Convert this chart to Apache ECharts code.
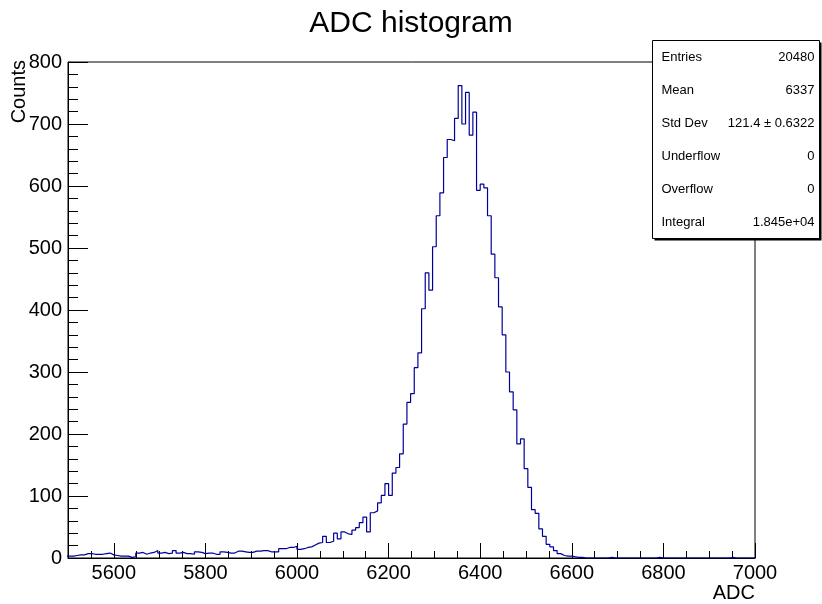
<!DOCTYPE html>
<html>
<head>
<meta charset="utf-8">
<title>ADC histogram</title>
<script src="https://cdn.jsdelivr.net/npm/echarts@6/dist/echarts.min.js"></script>
<style>
  html, body { margin: 0; padding: 0; background: #fff; }
  #chart { width: 822px; height: 604px; }
</style>
</head>
<body>
<div id="chart"></div>
<script>
// histogram binning: bins of width 8 starting at 5496 (first one is cut by the axis at 5500)
const binStart = 5496
const binWidth = 8

// counts per bin (5496 .. 6992)
const binCounts = [
  3,
  3, 4, 5, 5, 7, 7, 6, 6, 6, 7, 8, 5, 4, 3, 3, 3, 1, 2, 8, 9,
  6, 8, 9, 12, 8, 9, 7, 8, 12, 8, 9, 7, 7, 6, 10, 9, 7, 8, 8, 6,
  6, 10, 9, 8, 8, 11, 11, 10, 9, 9, 11, 11, 12, 12, 10, 10, 10, 15, 15, 17,
  17, 19, 14, 15, 17, 18, 21, 24, 25, 35, 25, 27, 40, 31, 42, 39, 38, 45, 49, 57,
  66, 42, 73, 76, 89, 101, 120, 101, 137, 146, 168, 216, 251, 265, 307, 331, 402, 460, 432, 502,
  552, 589, 646, 675, 673, 709, 762, 700, 751, 682, 719, 593, 603, 597, 552, 490, 452, 405, 360, 300,
  268, 239, 184, 192, 144, 114, 78, 72, 47, 35, 22, 18, 12, 7, 4, 3, 3, 2, 1, 1,
  0, 0, 0, 0, 0, 0, 0, 1, 0, 0, 0, 0, 0, 0, 0, 0, 0, 0, 0, 0,
  1, 0, 0, 0, 0, 0, 0, 0, 0, 0, 0, 0, 0, 0, 0, 0, 0, 0, 0, 0,
  1, 0, 0, 0, 0, 0, 0
]

// axis ticks
const xMajorTicks = [5600, 5800, 6000, 6200, 6400, 6600, 6800, 7000]

// stats box
const statLabels = ['Entries', 'Mean', 'Std Dev', 'Underflow', 'Overflow', 'Integral']
const statValues = ['20480', '6337', '121.4 \u00b1 0.6322', '0', '0', '1.845e+04']

const FONT = 'Liberation Sans, Arial, Helvetica, sans-serif'

function buildSteps() {
  const pts = []
  for (let i = 0; i < binCounts.length; i += 1) {
    pts.push([binStart + i * binWidth, binCounts[i]])
  }
  // close the last bin on its upper edge
  pts.push([binStart + binCounts.length * binWidth, binCounts[binCounts.length - 1]])
  return pts
}

function buildStatsBox() {
  const boxX = 652.5
  const boxY = 40.5
  const boxW = 167
  const boxH = 198
  const rowH = boxH / statLabels.length
  const els = [
    {
      type: 'rect',
      shape: { x: boxX + 2, y: boxY + 2, width: boxW, height: boxH },
      style: { fill: '#000' },
      z: 10,
    },
    {
      type: 'rect',
      shape: { x: boxX, y: boxY, width: boxW, height: boxH },
      style: { fill: '#fff', stroke: '#000', lineWidth: 1 },
      z: 11,
    },
  ]
  statLabels.forEach((label, i) => {
    const cy = boxY + rowH * (i + 0.5)
    els.push({
      type: 'text',
      x: boxX + 9,
      y: cy,
      z: 12,
      style: { text: label, font: '13px ' + FONT, fill: '#000', verticalAlign: 'middle', align: 'left' },
    })
    els.push({
      type: 'text',
      x: boxX + boxW - 5,
      y: cy,
      z: 12,
      style: { text: statValues[i], font: '13px ' + FONT, fill: '#000', verticalAlign: 'middle', align: 'right' },
    })
  })
  return els
}

const chart = echarts.init(document.getElementById('chart'), null, { renderer: 'canvas' })

const option = {
  animation: false,
  backgroundColor: '#fff',
  textStyle: { fontFamily: FONT },
  title: {
    text: 'ADC histogram',
    left: 'center',
    top: 4,
    textStyle: { fontSize: 30, fontWeight: 'normal', color: '#000', fontFamily: FONT },
  },
  grid: {
    left: 68,
    top: 62,
    width: 687,
    height: 496,
    show: true,
    borderColor: '#000',
    borderWidth: 1,
    backgroundColor: 'transparent',
  },
  xAxis: [
    {
      type: 'value',
      min: 5500,
      max: 7000,
      position: 'bottom',
      axisLine: { show: true, lineStyle: { color: '#000', width: 1 } },
      axisTick: {
        show: true,
        inside: true,
        length: 15,
        customValues: xMajorTicks,
        lineStyle: { color: '#000', width: 1 },
      },
      axisLabel: {
        customValues: xMajorTicks,
        formatter: (v) => String(v),
        margin: 5,
        fontSize: 20,
        color: '#000',
        fontFamily: FONT,
      },
      splitLine: { show: false },
    },
    {
      // minor ticks every 50
      type: 'value',
      min: 5500,
      max: 7000,
      interval: 50,
      position: 'bottom',
      offset: 0,
      axisLine: { show: false },
      axisTick: { show: true, inside: true, length: 7, lineStyle: { color: '#000', width: 1 } },
      axisLabel: { show: false },
      splitLine: { show: false },
    },
  ],
  yAxis: {
    type: 'value',
    min: 0,
    max: 800,
    interval: 100,
    axisLine: { show: true, lineStyle: { color: '#000', width: 1 } },
    axisTick: { show: true, inside: true, length: 20, lineStyle: { color: '#000', width: 1 } },
    minorTick: { show: true, splitNumber: 5, length: 10, lineStyle: { color: '#000', width: 1 } },
    axisLabel: { margin: 6, fontSize: 20, color: '#000', fontFamily: FONT },
    splitLine: { show: false },
  },
  series: [
    {
      name: 'ADC',
      type: 'line',
      step: 'end',
      showSymbol: false,
      clip: true,
      data: buildSteps(),
      lineStyle: { color: '#000099', width: 1.2 },
      z: 5,
    },
  ],
  graphic: [
    {
      type: 'text',
      x: 19,
      y: 60,
      rotation: Math.PI / 2,
      style: { text: 'Counts', font: '20px ' + FONT, fill: '#000', align: 'right', verticalAlign: 'middle' },
    },
    {
      type: 'text',
      x: 755,
      y: 593,
      style: { text: 'ADC', font: '20px ' + FONT, fill: '#000', align: 'right', verticalAlign: 'middle' },
    },
  ].concat(buildStatsBox()),
}

chart.setOption(option)
</script>
</body>
</html>
